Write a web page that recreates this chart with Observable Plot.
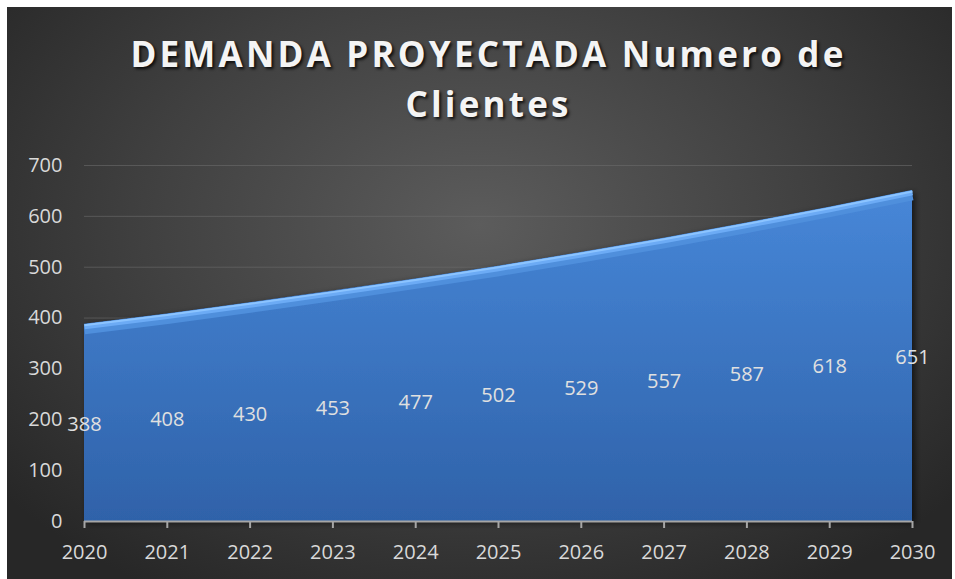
<!DOCTYPE html>
<html><head><meta charset="utf-8">
<script src="https://cdn.jsdelivr.net/npm/d3@7"></script>
<script src="https://cdn.jsdelivr.net/npm/@observablehq/plot@0.6"></script>
<style>
body{margin:0;background:#fff;width:955px;height:579px;overflow:hidden}
#chart{position:absolute;left:7px;top:7px;width:945px;height:572px;background:radial-gradient(ellipse 65% 75% at 50% 38%, #5c5c5c 0%, #404040 55%, #272727 100%);font-family:"Open Sans",sans-serif;overflow:hidden}
#title{position:absolute;left:9px;top:22px;width:945px;text-align:center;color:#f4f4f4;font-weight:700;font-size:35px;line-height:50px;letter-spacing:3.2px;text-shadow:2px 2px 3px rgba(0,0,0,0.8)}
#plot{position:absolute;left:0;top:130px}
</style></head>
<body>
<div id="chart">
  <div id="title">DEMANDA PROYECTADA Numero de<br>Clientes</div>
  <div id="plot"></div>
</div>
<script>
const years = [2020, 2021, 2022, 2023, 2024, 2025, 2026, 2027, 2028, 2029, 2030];
const clientes = [388, 408, 430, 453, 477, 502, 529, 557, 587, 618, 651];
const yTicks = [0, 100, 200, 300, 400, 500, 600, 700];

const data = years.map((y, i) => ({year: y, value: clientes[i]}));

const plot = Plot.plot({
  width: 945,
  height: 442,
  marginLeft: 77,
  marginRight: 40,
  marginTop: 28,
  marginBottom: 58,
  style: {background: "transparent", fontFamily: "Open Sans", fontSize: "20px", color: "#d9d9d9", overflow: "visible"},
  x: {domain: [2020, 2030], label: null},
  y: {domain: [0, 700], ticks: yTicks, label: null, tickSize: 0, tickPadding: 22},
  marks: [
    Plot.ruleY(yTicks.filter(d => d > 0), {stroke: "#6a6a6a", strokeWidth: 1, strokeOpacity: 0.6}),
    Plot.areaY(data, {x: "year", y: "value", fill: "url(#areaGrad)"}),
    Plot.lineY(data, {x: "year", y: "value", stroke: "#4f8fdc", strokeWidth: 10, dy: 5, strokeLinecap: "butt"}),
    Plot.lineY(data, {x: "year", y: "value", stroke: "#6cabf5", strokeWidth: 5, dy: 2.5, strokeLinecap: "butt"}),
    Plot.lineY(data, {x: "year", y: "value", stroke: "#8cc4ff", strokeWidth: 2, dy: 1, strokeLinecap: "butt"}),
    Plot.ruleY([0], {stroke: "#a6a6a6", strokeWidth: 2}),
    Plot.axisX({ticks: years, tickFormat: d => String(d), tickSize: 7, tickPadding: 16, stroke: "#a6a6a6", strokeWidth: 2, fill: "#d9d9d9", fontSize: 20, label: null}),
    Plot.text(data, {x: "year", y: d => d.value / 2, text: d => String(d.value), fill: "#e0e0e0", fontSize: 20, dy: 2})
  ]
});
const svg = d3.select(plot);
const defs = svg.insert("defs", ":first-child");
const g = defs.append("linearGradient").attr("id", "areaGrad").attr("x1", 0).attr("y1", 0).attr("x2", 0).attr("y2", 1);
g.append("stop").attr("offset", "0%").attr("stop-color", "#4787d8");
g.append("stop").attr("offset", "100%").attr("stop-color", "#2f62a9");
const f = defs.append("filter").attr("id", "shadow").attr("x", "-5%").attr("y", "-5%").attr("width", "115%").attr("height", "115%");
f.append("feDropShadow").attr("dx", 3).attr("dy", 2).attr("stdDeviation", 3).attr("flood-color", "#000").attr("flood-opacity", 0.6);
svg.selectAll("[aria-label='area'] path").attr("filter", "url(#shadow)");
document.getElementById("plot").appendChild(plot);
</script>
</body></html>
